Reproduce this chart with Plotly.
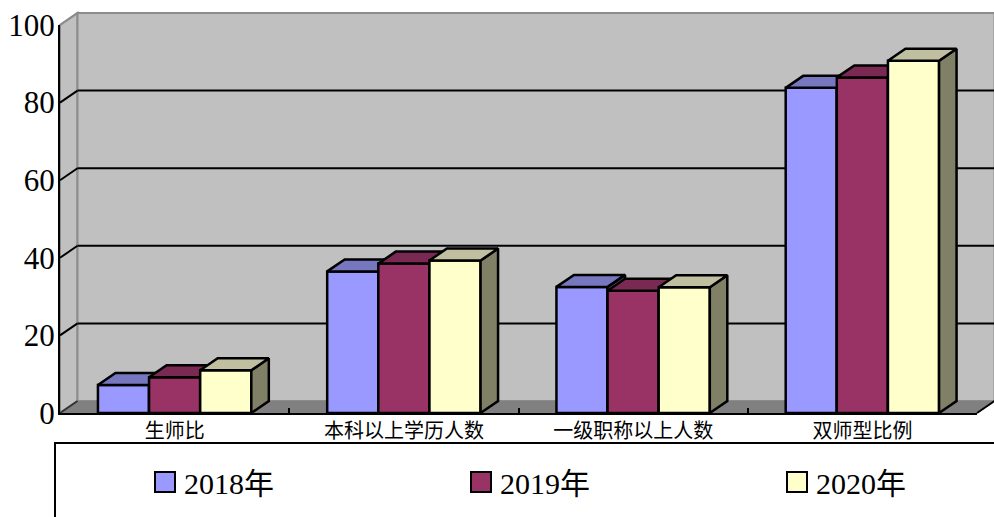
import plotly.graph_objects as go

# ---------------- data ----------------
categories = ["生师比", "本科以上学历人数", "一级职称以上人数", "双师型比例"]
series_names = ["2018年", "2019年", "2020年"]
values_2018 = [7.2, 36.5, 32.5, 83.8]
values_2019 = [9.2, 38.5, 31.5, 86.5]
values_2020 = [11.0, 39.3, 32.4, 90.8]
y_tick_values = [0, 20, 40, 60, 80, 100]

series_values = [values_2018, values_2019, values_2020]

# ---------------- style ----------------
front_colors = ["#9999FF", "#993366", "#FFFFCC"]
top_colors = ["#7777BF", "#7A2952", "#C0C0A0"]
side_colors = ["#5C5C99", "#5C1F3D", "#808066"]
WALL = "#C0C0C0"
FLOOR = "#808080"
EDGE = "#8C8C8C"

W, H = 994, 517
ML, MR, MT, MB = 60, 17, 25, 104
X_RANGE = [-0.5, len(categories) - 0.5]
Y_RANGE = [0, 100]
plot_w = W - ML - MR
plot_h = H - MT - MB
px_per_x = plot_w / (X_RANGE[1] - X_RANGE[0])
px_per_y = plot_h / (Y_RANGE[1] - Y_RANGE[0])
DEPTH_PX_X, DEPTH_PX_Y = 17.5, 12.0
dx = DEPTH_PX_X / px_per_x
dy = DEPTH_PX_Y / px_per_y
bar_w = 0.223
n_series = len(series_values)


def px(x):  # data x -> paper x
    return (x - X_RANGE[0]) / (X_RANGE[1] - X_RANGE[0])


def py(y):  # data y -> paper y
    return (y - Y_RANGE[0]) / (Y_RANGE[1] - Y_RANGE[0])


def pix(xp, yp):  # pixel -> paper
    return (xp - ML) / plot_w, (H - MB - yp) / plot_h


def path(points):
    return "M " + " L ".join(f"{px(x)},{py(y)}" for x, y in points) + " Z"


shapes = []
x0, x1 = X_RANGE
y0, y1 = Y_RANGE
# side wall
shapes.append(dict(type="path", xref="paper", yref="paper", layer="below",
                   path=path([(x0, y0), (x0, y1), (x0 + dx, y1 + dy), (x0 + dx, y0 + dy)]),
                   fillcolor=WALL, line=dict(color=EDGE, width=2)))
# back wall
shapes.append(dict(type="path", xref="paper", yref="paper", layer="below",
                   path=path([(x0 + dx, y0 + dy), (x0 + dx, y1 + dy), (x1 + dx, y1 + dy), (x1 + dx, y0 + dy)]),
                   fillcolor=WALL, line=dict(color=EDGE, width=2)))
# floor
shapes.append(dict(type="path", xref="paper", yref="paper", layer="below",
                   path=path([(x0, y0), (x1, y0), (x1 + dx, y0 + dy), (x0 + dx, y0 + dy)]),
                   fillcolor=FLOOR, line=dict(width=0)))
# gridlines on back wall and connectors
for v in y_tick_values:
    if v == y_tick_values[0]:
        col = "#333333"
    elif v == y_tick_values[-1]:
        col = EDGE
    else:
        col = "black"
    if v not in (y_tick_values[0], y_tick_values[-1]):
        shapes.append(dict(type="line", xref="paper", yref="paper", layer="below",
                           x0=px(x0 + dx), y0=py(v + dy), x1=px(x1 + dx), y1=py(v + dy),
                           line=dict(color="black", width=2)))
    shapes.append(dict(type="line", xref="paper", yref="paper", layer="below",
                       x0=px(x0), y0=py(v), x1=px(x0 + dx), y1=py(v + dy),
                       line=dict(color=col, width=2)))
# floor right diagonal
shapes.append(dict(type="line", xref="paper", yref="paper", layer="below",
                   x0=px(x1), y0=py(y0), x1=px(x1 + dx), y1=py(y0 + dy),
                   line=dict(color="black", width=2)))

# legend box
lx0, ly0 = pix(55, 443)
lx1, ly1 = pix(1010, 530)
shapes.append(dict(type="rect", xref="paper", yref="paper", layer="above",
                   x0=lx0, y0=ly1, x1=lx1, y1=ly0, line=dict(color="black", width=2),
                   fillcolor="rgba(0,0,0,0)"))

annotations = []
legend_x_px = [155, 471, 787]
for i, name in enumerate(series_names):
    sx0, sy0 = pix(legend_x_px[i], 472)
    sx1, sy1 = pix(legend_x_px[i] + 20, 492)
    shapes.append(dict(type="rect", xref="paper", yref="paper", layer="above",
                       x0=sx0, y0=sy1, x1=sx1, y1=sy0, fillcolor=front_colors[i],
                       line=dict(color="black", width=2)))
    tx, ty = pix(legend_x_px[i] + 27, 483)
    annotations.append(dict(xref="paper", yref="paper", x=tx, y=ty, text=name,
                            showarrow=False, xanchor="left", yanchor="middle",
                            font=dict(family="Liberation Serif, Noto Sans CJK SC", size=30, color="black")))

fig = go.Figure()
xs = list(range(len(categories)))
for i, vals in enumerate(series_values):
    xa = "x" if i == 0 else f"x{i+1}"
    ya = "y" if i == 0 else f"y{i+1}"
    off = -n_series * bar_w / 2 + i * bar_w
    sx, sy = [], []
    tx_, ty_ = [], []
    for c, v in zip(xs, vals):
        l = c + off
        r = l + bar_w
        sx += [r, r, r + dx, r + dx, r, None]
        sy += [0, v, v + dy, dy, 0, None]
        tx_ += [l, r, r + dx, l + dx, l, None]
        ty_ += [v, v, v + dy, v + dy, v, None]
    fig.add_trace(go.Bar(x=xs, y=vals, width=bar_w, offset=off, xaxis=xa, yaxis=ya,
                         marker=dict(color=front_colors[i], line=dict(color="black", width=2.5)),
                         showlegend=False, hoverinfo="skip", name=series_names[i]))
    fig.add_trace(go.Scatter(x=sx, y=sy, fill="toself", fillcolor=side_colors[i], mode="lines",
                             line=dict(color="black", width=2.5), xaxis=xa, yaxis=ya,
                             showlegend=False, hoverinfo="skip"))
    fig.add_trace(go.Scatter(x=tx_, y=ty_, fill="toself", fillcolor=top_colors[i], mode="lines",
                             line=dict(color="black", width=2.5), xaxis=xa, yaxis=ya,
                             showlegend=False, hoverinfo="skip"))

fig.update_layout(
    width=W, height=H, autosize=False,
    margin=dict(l=ML, r=MR, t=MT, b=MB, autoexpand=False),
    paper_bgcolor="white", plot_bgcolor="rgba(0,0,0,0)",
    barmode="overlay", showlegend=False,
    shapes=shapes, annotations=annotations,
    xaxis=dict(range=X_RANGE, tickvals=xs, ticktext=categories, ticks="", automargin=False,
               showgrid=False, zeroline=False, showline=True, linecolor="black", linewidth=2,
               ticklabelstandoff=-1,
               tickfont=dict(family="Noto Sans CJK SC", size=20, color="black")),
    yaxis=dict(range=Y_RANGE, tickvals=y_tick_values, ticktext=[str(v) for v in y_tick_values],
               ticks="", showgrid=False, zeroline=False, showline=True, linecolor="black",
               linewidth=2, automargin=False, ticklabelstandoff=-3,
               tickfont=dict(family="Liberation Serif", size=31, color="black")),
    xaxis2=dict(range=X_RANGE, overlaying="x", anchor="y2", side="bottom", automargin=False,
                tickvals=[c + 0.5 for c in xs[:-1]], ticks="inside", ticklen=5, tickwidth=2,
                tickcolor="black", showticklabels=False, showgrid=False, zeroline=False,
                showline=False),
    yaxis2=dict(range=Y_RANGE, overlaying="y", visible=False),
    xaxis3=dict(range=X_RANGE, overlaying="x", anchor="y3", visible=False),
    yaxis3=dict(range=Y_RANGE, overlaying="y", visible=False),
)

fig.write_html("out.html", config={"displayModeBar": False},
               post_script="document.body.style.margin='0';document.body.style.overflow='hidden';")
